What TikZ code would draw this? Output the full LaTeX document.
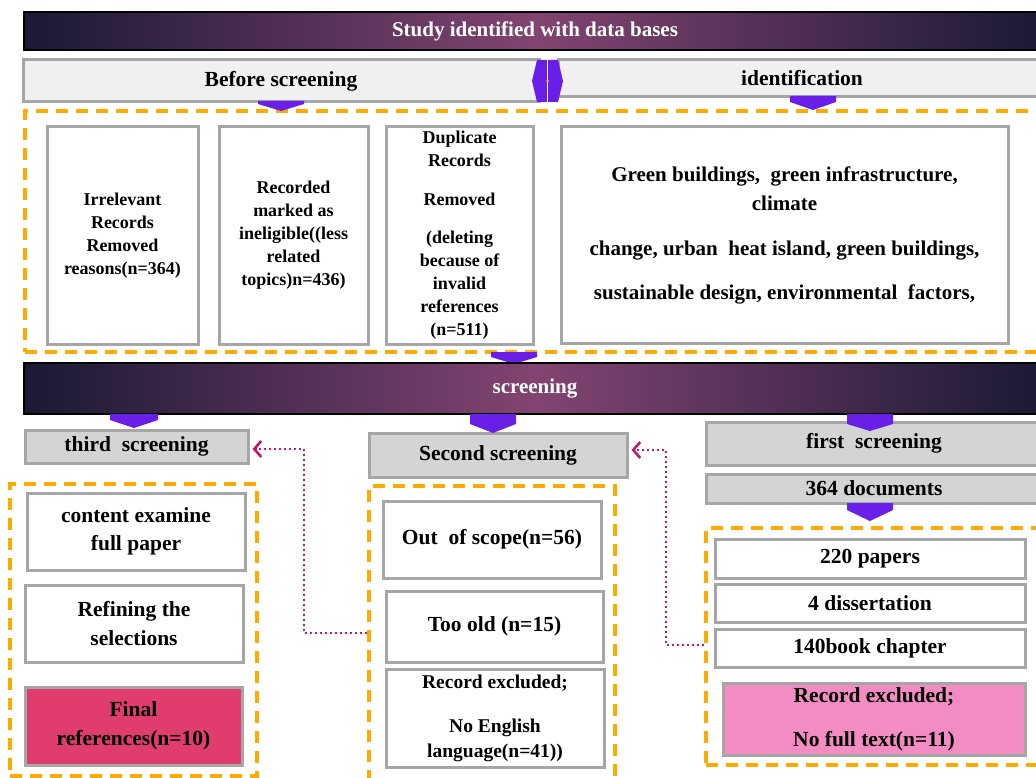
\documentclass[tikz,border=0pt]{standalone}
\usepackage{fontspec}
\setmainfont{Liberation Serif}
\usetikzlibrary{arrows.meta}

\definecolor{barnavy}{RGB}{26,25,52}
\definecolor{barplum}{RGB}{130,68,112}
\definecolor{boxline}{RGB}{166,166,166}
\definecolor{lightfill}{RGB}{240,240,240}
\definecolor{grayfill}{RGB}{212,212,212}
\definecolor{orangeline}{RGB}{255,170,0}
\definecolor{chevpurple}{RGB}{106,31,232}
\definecolor{linkpink}{RGB}{192,24,112}
\definecolor{finalred}{RGB}{224,61,110}
\definecolor{excludedpink}{RGB}{244,140,196}

\begin{document}
\begin{tikzpicture}[x=1pt, y=-1pt,
  headbar/.style={draw=black, line width=2.4pt, left color=barnavy, right color=barnavy, middle color=barplum, text=white, inner sep=0pt, font=\fontsize{21}{25}\selectfont\bfseries},
  lightbar/.style={draw=boxline, line width=3pt, fill=lightfill, inner sep=0pt, font=\fontsize{21.5}{26}\selectfont\bfseries},
  graybar/.style={lightbar, fill=grayfill},
  grp/.style={draw=orangeline, line width=3.2pt, dash pattern=on 12pt off 8pt, inner sep=0pt},
  smallbox/.style={draw=boxline, line width=3pt, fill=white, align=center, inner sep=0pt, font=\fontsize{18}{23}\selectfont\bfseries},
  whitebox/.style={smallbox, font=\fontsize{21.5}{28.5}\selectfont\bfseries},
  chev/.style={fill=chevpurple},
  link/.style={draw=linkpink, line width=2.4pt, dash pattern=on 2.4pt off 2.6pt, -{Straight Barb[length=7pt, width=16pt, line width=2.6pt]}, shorten >=3pt}]
\clip (0,0) rectangle (1036,778);

% identification
\node[headbar, minimum width=1022pt, minimum height=38pt] (studybar) at (535,31) {Study identified with data bases};
\node[lightbar, minimum width=516pt, minimum height=42pt] (bsbar) at (281,81) {Before screening};
\node[lightbar, minimum width=488pt, minimum height=37pt] (idbar) at (802,78.5) {identification};
\fill[chev] (532,81) -- (537,60) -- (558,60) -- (563,81) -- (558,102) -- (537,102) -- cycle;
\draw[white, line width=1.5pt] (547.5,60) -- (547.5,102);
\fill[orangeline] (547.5,81) circle (1.5);

\node[grp, minimum width=1021pt, minimum height=241pt] (grpid) at (535.5,231.5) {};
\node[smallbox, minimum width=151pt, minimum height=217pt] (irrel) at (122.5,235.5) {Irrelevant\\Records\\Removed\\reasons(n=364)};
\node[smallbox, minimum width=149pt, minimum height=217pt] (inelig) at (293.5,235.5) {Recorded\\marked as\\ineligible((less\\related\\topics)n=436)};
\node[smallbox, minimum width=147pt, minimum height=217pt] (dupl) at (459.5,235.5) {Duplicate\\Records\\[16pt]Removed\\[15pt](deleting\\because of\\invalid\\references\\(n=511)};
\node[smallbox, minimum width=447pt, minimum height=216pt, font=\fontsize{21}{29}\selectfont\bfseries] (keywords) at (784.5,235) {Green buildings,~ green infrastructure,\\climate\\[16pt]change, urban~ heat island, green buildings,\\[15pt]sustainable design, environmental~ factors,};

\fill[chev] (258,101) -- (304,101) -- (304,104) -- (281,111) -- (258,104) -- cycle;
\fill[chev] (790,96) -- (836,96) -- (836,102) -- (813,110) -- (790,102) -- cycle;
\fill[chev] (491,352) -- (537,352) -- (537,357) -- (514,364) -- (491,357) -- cycle;

% screening
\node[headbar, minimum width=1022pt, minimum height=51pt] (screenbar) at (535,388.5) {screening};
\node[graybar, minimum width=223pt, minimum height=33pt] (third) at (136.5,446.5) {third~ screening};
\node[graybar, minimum width=258pt, minimum height=44pt] (second) at (498,455) {Second screening};
\node[graybar, minimum width=336pt, minimum height=43pt] (first) at (874,443.5) {first~ screening};
\node[graybar, minimum width=336pt, minimum height=29pt] (docs) at (874,488.5) {364 documents};

\node[grp, minimum width=247pt, minimum height=292pt] (grpthird) at (133.5,630) {};
\node[whitebox, minimum width=218pt, minimum height=77pt] (content) at (136,531.5) {content examine\\full paper};
\node[whitebox, minimum width=218pt, minimum height=77pt] (refine) at (134,623.5) {Refining the\\selections};
\node[whitebox, fill=finalred, minimum width=217pt, minimum height=78pt] (final) at (133.5,726) {Final\\references(n=10)};

\node[grp, minimum width=246pt, minimum height=304pt] (grpsecond) at (492,638) {};
\node[whitebox, minimum width=218pt, minimum height=77pt] (scope) at (492,539.5) {Out~ of scope(n=56)};
\node[whitebox, minimum width=217pt, minimum height=71pt] (tooold) at (494.5,626.5) {Too old (n=15)};
\node[whitebox, minimum width=218pt, minimum height=98pt, font=\fontsize{19.5}{25}\selectfont\bfseries] (noenglish) at (495,718) {Record excluded;\\[19pt]No English\\language(n=41))};

\node[grp, minimum width=340pt, minimum height=237pt] (grpfirst) at (876,646.5) {};
\node[whitebox, minimum width=310pt, minimum height=39pt] (papers) at (870,558.5) {220 papers};
\node[whitebox, minimum width=310pt, minimum height=38pt] (diss) at (870,603) {4 dissertation};
\node[whitebox, minimum width=310pt, minimum height=38pt] (book) at (870,648) {140book chapter};
\node[whitebox, fill=excludedpink, minimum width=302pt, minimum height=72pt, font=\fontsize{21.5}{22}\selectfont\bfseries] (nofull) at (874,719) {Record excluded;\\[22pt]No full text(n=11)};

\fill[chev] (110,414) -- (158,414) -- (158,420) -- (134,428) -- (110,420) -- cycle;
\fill[chev] (470,414) -- (516,414) -- (516,424) -- (493,433) -- (470,424) -- cycle;
\fill[chev] (847,414) -- (893,414) -- (893,424) -- (870,431) -- (847,424) -- cycle;
\fill[chev] (847,503) -- (893,503) -- (893,510) -- (870,521) -- (847,510) -- cycle;

\coordinate (bendA) at (304,449);
\coordinate (bendB) at (666,450);
\draw[link] ([yshift=-6.5pt]grpsecond.west |- tooold.center) -| (bendA) -- (third.east |- bendA);
\draw[link] ([yshift=3pt]grpfirst.west |- book.center) -| (bendB) -- (second.east |- bendB);
\end{tikzpicture}
\end{document}
